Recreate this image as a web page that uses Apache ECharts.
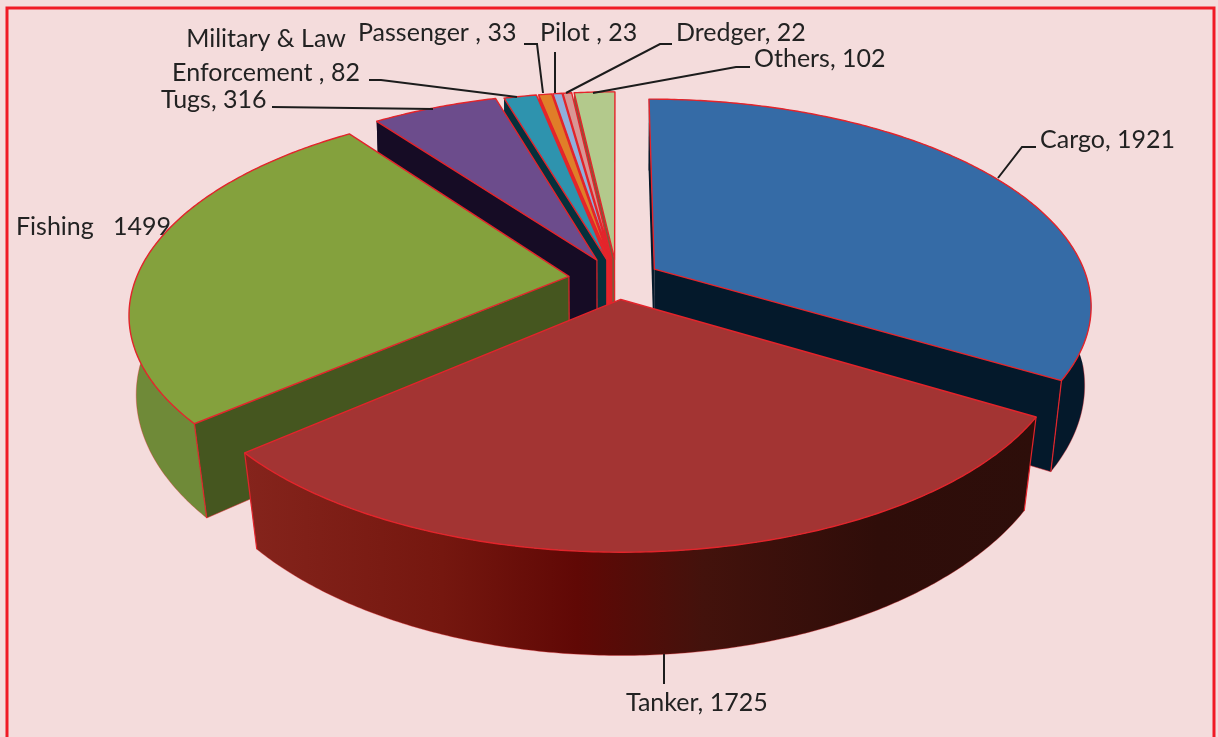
<!DOCTYPE html>
<html>
<head>
<meta charset="utf-8">
<style>
  html, body { margin: 0; padding: 0; background: #f4dcdc; }
  #chart { width: 1218px; height: 737px; }
</style>
<script src="https://cdn.jsdelivr.net/npm/echarts@6/dist/echarts.min.js"></script>
</head>
<body>
<div id="chart"></div>
<script>
// chart data, clockwise from 12 o'clock
const categories = ["Cargo", "Tanker", "Fishing", "Tugs", "Military & Law Enforcement", "Passenger", "Pilot", "Dredger", "Others"];
const values = [1921, 1725, 1499, 316, 82, 33, 23, 22, 102];
const labelTexts = ["Cargo, 1921", "Tanker, 1725", "Fishing   1499", "Tugs, 316", "Military & Law\nEnforcement , 82", "Passenger , 33", "Pilot , 23", "Dredger, 22", "Others, 102"];

// styles per slice
const topColors = ["#356ba6", "#a33433", "#84a13d", "#6c4c8c", "#2e93ae", "#e07e28", "#8fafdc", "#d99694", "#b3c98c"];
const wallColors = ["#04192b", "#2d0d0a", "#45561f", "#160c25", "#06303c", "#e8262a", "#e8262a", "#e8262a", "#7f5a3a"];
const outerColors = ["#04192b", null, "#6f8a38", "#160c25", "#06303c", "#e8262a", "#e8262a", "#e8262a", "#e8262a"];
const explodeBy = [0.1, 0.1, 0.112, 0.106, 0.1, 0.1, 0.1, 0.1, 0.1];

// back to front, so the near slices cover the far ones
const paintOrder = [8, 7, 6, 5, 4, 3, 0, 2, 1];

// layout of the tilted disc
const cx = 617, cy = 279, rx = 433, ry = 202;
const persp = 0.17, depth = 84;
const edgeRed = "#e3242b";

// where the labels and leader lines go
const labelPos = [[1040, 140], [626, 703], [16, 227], [161, 100], [266, 56], [358, 33], [540, 33], [676, 33], [754, 59]];
const leaders = [
  [[998, 178], [1022, 147], [1036, 147]],
  [[664, 654], [664, 684]],
  null,
  [[272, 107], [433, 109]],
  [[369, 80], [381, 80], [517, 97]],
  [[524, 44], [537, 44], [543, 93]],
  [[555, 52], [555, 93]],
  [[566, 93], [660, 44], [672, 44]],
  [[593, 93], [736, 67], [750, 67]]
];

const total = values.reduce((a, b) => a + b, 0);
const startAngles = [];
values.reduce((acc, v, i) => {
  startAngles[i] = (acc / total) * 2 * Math.PI;
  return acc + v;
}, 0);

// disc coords (X right, Y towards the viewer, radius 1) to screen
function project(X, Y, low) {
  const s = 1 / (1 - persp * Y);
  // the bottom edge pulls in a little, more so near the viewer
  const shrink = low ? 0.99 - 0.03 * Math.max(Y, 0) : 1;
  return [
    cx + rx * X * s * shrink,
    cy + ry * Y * s + (low ? depth * s : 0)
  ];
}

function poly(points, fill, stroke, lineWidth) {
  return {
    type: "polygon",
    shape: { points: points },
    style: { fill: fill, stroke: stroke || null, lineWidth: lineWidth || 0, lineJoin: "round" }
  };
}

function line(points, stroke, lineWidth, opacity) {
  return {
    type: "polyline",
    shape: { points: points },
    style: { fill: null, stroke: stroke, lineWidth: lineWidth, opacity: opacity == null ? 1 : opacity }
  };
}

function renderSlice(params, api) {
  const i = api.value(0);
  const a0 = startAngles[i];
  const a1 = a0 + (api.value(1) / total) * 2 * Math.PI;
  const mid = (a0 + a1) / 2;
  const ox = explodeBy[i] * Math.sin(mid);
  const oy = -explodeBy[i] * Math.cos(mid);

  const steps = Math.max(2, Math.ceil((a1 - a0) / 0.01));
  const rim = [];
  for (let k = 0; k <= steps; k++) {
    const a = a0 + ((a1 - a0) * k) / steps;
    rim.push([ox + Math.sin(a), oy - Math.cos(a)]);
  }
  const top = rim.map((p) => project(p[0], p[1], false));
  const low = rim.map((p) => project(p[0], p[1], true));
  const apexTop = project(ox, oy, false);
  const apexLow = project(ox, oy, true);
  const last = rim.length - 1;

  const children = [];

  // outer wall first, the inner walls and the top sit over it
  let outerFill = outerColors[i];
  if (!outerFill) {
    outerFill = new echarts.graphic.LinearGradient(0, 0, 1, 0, [
      { offset: 0, color: "#85241c" },
      { offset: 0.25, color: "#75170f" },
      { offset: 0.42, color: "#600805" },
      { offset: 0.58, color: "#43120c" },
      { offset: 0.8, color: "#2f0d09" },
      { offset: 1, color: "#2d0e0a" }
    ]);
  }
  children.push(poly(top.concat(low.slice().reverse()), outerFill));
  const nearLow = low.filter((p, k) => rim[k][1] > 0);
  if (nearLow.length > 1) {
    children.push(line(nearLow, edgeRed, 1, 0.35));
  }

  // inner walls, only the ones that face the viewer
  const endFacing = -Math.cos(a1 + Math.PI / 2);
  const startFacing = -Math.cos(a0 - Math.PI / 2);
  if (endFacing > 0.02) {
    children.push(poly([apexTop, top[last], low[last], apexLow], wallColors[i]));
    children.push(line([apexLow, low[last]], edgeRed, 1, 0.5));
  }
  if (startFacing > -0.01) {
    children.push(poly([apexTop, top[0], low[0], apexLow], wallColors[i]));
  }
  if (startFacing > 0.02) {
    children.push(line([apexLow, low[0]], edgeRed, 1, 0.5));
    children.push(line([apexTop, apexLow], edgeRed, 1.2));
  }

  // corner edges on the near side only
  if (rim[0][1] > 0.1) {
    children.push(line([top[0], low[0]], edgeRed, 1.2));
  }
  if (rim[last][1] > 0.1) {
    children.push(line([top[last], low[last]], edgeRed, 1.2));
  }

  // top face
  children.push(poly([apexTop].concat(top), topColors[i], edgeRed, 1.4));

  return { type: "group", children: children };
}

const graphics = [
  { type: "rect", shape: { x: 7, y: 8, width: 1207, height: 760 }, style: { fill: null, stroke: "#f01a25", lineWidth: 3 }, z: 1 }
];
leaders.forEach((pts) => {
  if (pts) {
    graphics.push({
      type: "polyline",
      shape: { points: pts },
      style: { fill: null, stroke: "#1c1c1c", lineWidth: 2 },
      z: 10
    });
  }
});
labelTexts.forEach((t, i) => {
  const multi = t.indexOf("\n") >= 0;
  graphics.push({
    type: "text",
    x: labelPos[i][0],
    y: labelPos[i][1],
    style: {
      text: t,
      font: '25px Lato, "Open Sans", sans-serif',
      fill: "#222222",
      align: multi ? "center" : "left",
      verticalAlign: "middle",
      lineHeight: 34
    },
    z: 11
  });
});

const chart = echarts.init(document.getElementById("chart"), null, { renderer: "canvas" });
chart.setOption({
  animation: false,
  backgroundColor: "#f4dcdc",
  graphic: graphics,
  series: [
    {
      type: "custom",
      coordinateSystem: "none",
      silent: true,
      renderItem: renderSlice,
      data: paintOrder.map((i) => ({ name: categories[i], value: [i, values[i]] }))
    }
  ]
});
</script>
</body>
</html>
